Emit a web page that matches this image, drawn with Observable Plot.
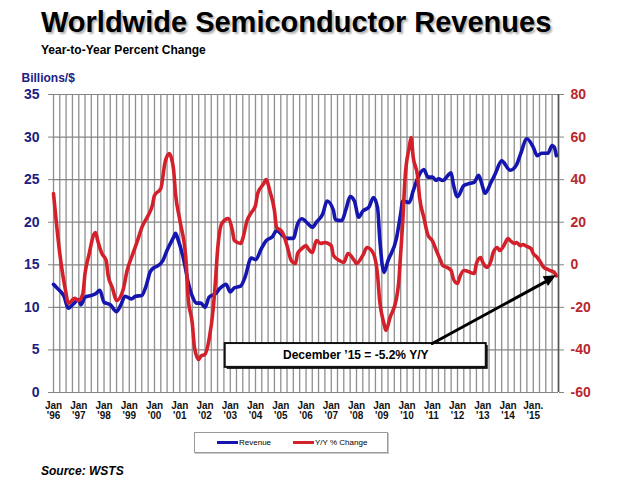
<!DOCTYPE html>
<html>
<head>
<meta charset="utf-8">
<script src="https://cdn.jsdelivr.net/npm/d3@7"></script>
<script src="https://cdn.jsdelivr.net/npm/@observablehq/plot@0.6"></script>
<style>
  body { margin: 0; background: #fff; font-family: "Liberation Sans", Arial, sans-serif; }
  #page { position: relative; width: 617px; height: 495px; overflow: hidden; background: #fff; }
  #title { position: absolute; left: 41px; top: 8px; font-size: 29px; line-height: 29px; font-weight: bold;
           color: #000; white-space: nowrap; text-shadow: 2px 2px 2px rgba(0,0,0,0.3); }
  #subtitle { position: absolute; left: 41px; top: 44px; font-size: 12px; line-height: 12px; font-weight: bold; white-space: nowrap; }
  #chart { position: absolute; left: 0; top: 62px; }
  #legend { position: absolute; left: 194px; top: 432px; width: 192px; height: 19px; border: 1px solid #9a9a9a;
            box-shadow: 1px 1px 0 #c8c8c8; font-size: 8px; }
  #legend .item { display: flex; align-items: center; position: absolute; top: 0; height: 19px; }
  #legend .swatch { width: 21px; height: 3px; margin-right: 1px; }
  #source { position: absolute; left: 41px; top: 465px; font-size: 12px; line-height: 12px; font-weight: bold;
            font-style: italic; white-space: nowrap; }
</style>
</head>
<body>
<div id="page">
  <div id="title">Worldwide Semiconductor Revenues</div>
  <div id="subtitle">Year-to-Year Percent Change</div>
  <div id="chart"></div>
  <div id="legend"></div>
  <div id="source">Source: WSTS</div>
</div>
<script>
// Worldwide semiconductor revenue (billions of US$, 3-month average)
const revenueMonths = [
  "1996-01","1996-03","1996-06","1996-08","1996-10",
  "1997-01","1997-02","1997-04","1997-07","1997-09","1997-11",
  "1998-01","1998-04","1998-07","1998-09","1998-11",
  "1999-02","1999-04","1999-07","1999-09","1999-11",
  "2000-01","2000-02","2000-05","2000-07","2000-10","2000-11","2000-12",
  "2001-03","2001-05","2001-07","2001-09","2001-11",
  "2002-01","2002-03","2002-06","2002-08","2002-11",
  "2003-01","2003-03","2003-06","2003-08","2003-11",
  "2004-01","2004-04","2004-06","2004-09","2004-11",
  "2005-02","2005-04","2005-07","2005-09","2005-11",
  "2006-02","2006-04","2006-06","2006-09","2006-11",
  "2007-02","2007-03","2007-06","2007-08","2007-10","2007-12",
  "2008-02","2008-04","2008-07","2008-09","2008-11","2008-12",
  "2009-02","2009-04","2009-08","2009-10","2009-11",
  "2010-02","2010-04","2010-06","2010-09","2010-11",
  "2011-01","2011-03","2011-04","2011-06","2011-10","2011-11",
  "2012-01","2012-04","2012-06","2012-09","2012-11",
  "2013-01","2013-02","2013-05","2013-07","2013-10",
  "2014-02","2014-05","2014-07","2014-10",
  "2015-01","2015-03","2015-05","2015-08","2015-10","2015-11","2015-12"
];
const revenueValues = [
  12.7, 12.2, 11.3, 9.9, 10.3,
  10.9, 10.3, 11.2, 11.4, 11.6, 12.0,
  10.6, 10.3, 9.5, 10.3, 11.3,
  11.0, 11.3, 11.4, 12.5, 14.2,
  14.7, 14.8, 15.5, 16.7, 18.2, 18.7, 18.1,
  15.5, 13.0, 11.3, 10.5, 10.5,
  10.0, 11.2, 11.6, 12.2, 12.7,
  11.8, 12.3, 12.5, 13.5, 15.8,
  15.6, 17.0, 17.8, 18.3, 19.0,
  18.4, 18.1, 18.1, 19.8, 20.4,
  19.8, 19.4, 20.0, 21.0, 22.5,
  21.4, 20.3, 20.2, 21.5, 23.0, 22.5,
  20.6, 21.3, 21.8, 22.9, 21.7, 18.2,
  14.1, 15.5, 18.1, 21.0, 22.5,
  22.3, 23.7, 25.1, 26.2, 25.3,
  25.3, 24.9, 25.1, 24.9, 25.8, 24.5,
  23.0, 24.3, 24.5, 24.7, 25.5,
  24.1, 23.4, 24.7, 25.7, 27.2,
  26.1, 26.7, 28.0, 29.8,
  28.8, 27.8, 28.1, 28.1, 29.0, 28.8, 27.8
];

// Year-to-year percent change
const changeMonths = [
  "1996-01","1996-04","1996-07","1996-08","1996-11",
  "1997-01","1997-03","1997-04","1997-06","1997-08","1997-09","1997-10","1997-12",
  "1998-02","1998-03","1998-05","1998-07","1998-10","1998-12",
  "1999-03","1999-05","1999-07","1999-10","1999-12",
  "2000-01","2000-04","2000-06","2000-08","2000-10","2000-11",
  "2001-01","2001-04","2001-05","2001-07","2001-08","2001-10","2001-11",
  "2002-01","2002-03","2002-05","2002-06","2002-07","2002-09","2002-12",
  "2003-02","2003-03","2003-06","2003-07","2003-09","2003-11",
  "2004-01","2004-02","2004-05","2004-06","2004-08","2004-10","2004-11",
  "2005-01","2005-02","2005-04","2005-06","2005-08","2005-09","2005-11",
  "2006-01","2006-02","2006-04","2006-06","2006-08","2006-10",
  "2007-01","2007-02","2007-05","2007-07","2007-09","2007-12",
  "2008-01","2008-04","2008-06","2008-09","2008-11","2008-12",
  "2009-02","2009-03","2009-05","2009-08","2009-09","2009-10","2009-11","2009-12",
  "2010-02","2010-03","2010-04","2010-06","2010-07","2010-09","2010-11",
  "2011-01","2011-03","2011-05","2011-06","2011-08","2011-10","2011-11",
  "2012-01","2012-02","2012-04","2012-06","2012-07","2012-09","2012-10","2012-12",
  "2013-01","2013-03","2013-05","2013-06","2013-08","2013-09","2013-11",
  "2014-01","2014-02","2014-04","2014-05","2014-07","2014-08","2014-10","2014-12",
  "2015-01","2015-03","2015-04","2015-06","2015-08","2015-09","2015-11","2015-12"
];
const changeValues = [
  33.5, 5.3, -13.5, -18.2, -15.8,
  -16.8, -13.5, -4.1, 5.3, 13.8, 15.2, 11.4, 5.3,
  2.0, -5.0, -10.7, -16.8, -12.1, -2.7,
  5.8, 11.4, 17.5, 23.2, 27.9,
  32.6, 35.8, 48.0, 52.2, 45.2, 33.0,
  21.0, 2.0, -15.3, -27.6, -38.8, -44.5, -43.0,
  -42.0, -35.0, -20.0, -7.4, 6.7, 19.4, 21.7,
  16.1, 11.4, 10.0, 12.3, 20.8, 24.5,
  27.8, 33.5, 38.2, 40.0, 34.0, 25.5, 17.5,
  16.1, 14.7, 9.0, 2.0, 0.6, 5.3, 7.6,
  9.0, 7.6, 5.8, 11.4, 10.0, 10.5,
  9.0, 4.4, 2.0, 1.1, 5.3, 2.0,
  0.6, 4.4, 8.1, 5.3, -5.0, -16.8,
  -27.6, -30.9, -24.7, -15.8, -8.8, 5.3, 20.8, 39.6,
  55.2, 59.8, 50.4, 41.9, 31.7, 22.3, 13.8,
  11.4, 6.7, 2.0, -0.3, -1.2, -2.7, -6.5,
  -8.8, -5.9, -2.7, -3.1, -3.6, -4.1, 0.6, 3.4,
  1.1, -1.2, 2.0, 5.8, 8.1, 6.7, 9.0,
  12.3, 11.4, 10.0, 10.5, 9.0, 9.5, 8.6, 7.6,
  5.3, 3.4, 2.0, -1.2, -2.2, -2.7, -3.6, -5.2
];

// Axis ticks and labels
const revenueTicks = [0, 5, 10, 15, 20, 25, 30, 35];
const changeTicks = [-60, -40, -20, 0, 20, 40, 60, 80];
const tickYears = [1996, 1997, 1998, 1999, 2000, 2001, 2002, 2003, 2004, 2005,
                   2006, 2007, 2008, 2009, 2010, 2011, 2012, 2013, 2014, 2015];
const tickLabels = ["Jan\n'96", "Jan\n'97", "Jan\n'98", "Jan\n'99", "Jan\n'00", "Jan\n'01", "Jan\n'02",
                    "Jan\n'03", "Jan\n'04", "Jan\n'05", "Jan\n'06", "Jan\n'07", "Jan\n'08", "Jan\n'09",
                    "Jan\n'10", "Jan\n'11", "Jan\n'12", "Jan\n'13", "Jan\n'14", "Jan.\n'15"];

const seriesNames = ["Revenue", "Y/Y % Change"];
const seriesColors = ["#1515b0", "#d4202a"];

// Callout for the latest reading
const callout = {
  text: "December \u201915 = -5.2% Y/Y",
  from: "2002-10-20", to: "2013-02-20", low: -48.2, high: -37,
  arrowStart: "2011-01-01"
};

const parseMonth = d3.utcParse("%Y-%m");
const parseDay = d3.utcParse("%Y-%m-%d");

// The percent-change series shares the chart with the revenue axis:
// its range -60..80 is laid over the revenue range 0..35.
const revDomain = [0, 35];
const chgDomain = [-60, 80];
const toRevenueAxis = (p) =>
  revDomain[0] + (p - chgDomain[0]) * (revDomain[1] - revDomain[0]) / (chgDomain[1] - chgDomain[0]);

const revenue = revenueMonths.map((m, i) => ({date: parseMonth(m), value: revenueValues[i]}));
const change = changeMonths.map((m, i) => ({date: parseMonth(m), value: changeValues[i]}));
const last = change[change.length - 1];

const start = new Date(Date.UTC(1996, 0, 1));
const end = new Date(Date.UTC(2016, 0, 1));
const quarters = d3.utcMonth.every(3).range(start, new Date(Date.UTC(2016, 0, 2)));
const yearTicks = tickYears.map((y) => new Date(Date.UTC(y, 0, 1)));
const labelByYear = new Map(tickYears.map((y, i) => [y, tickLabels[i]]));
const changeTickPositions = changeTicks.map(toRevenueAxis);
const changeLabelByPos = new Map(changeTickPositions.map((p, i) => [p, String(changeTicks[i])]));

const calloutBox = [{
  x1: parseDay(callout.from), x2: parseDay(callout.to),
  y1: toRevenueAxis(callout.low), y2: toRevenueAxis(callout.high)
}];
const arrowFrom = {date: parseDay(callout.arrowStart), y: toRevenueAxis(callout.high)};
const arrowTo = {date: last.date, y: toRevenueAxis(last.value)};

// Solid triangular arrowhead at the tip of the callout arrow
function arrowHead(index, scales) {
  const x1 = scales.x(arrowFrom.date), y1 = scales.y(arrowFrom.y);
  const x2 = scales.x(arrowTo.date), y2 = scales.y(arrowTo.y);
  const a = Math.atan2(y2 - y1, x2 - x1);
  const len = 12, half = 5.5;
  const bx = x2 - len * Math.cos(a), by = y2 - len * Math.sin(a);
  const px = -Math.sin(a) * half, py = Math.cos(a) * half;
  const g = d3.create("svg:g");
  g.append("polygon")
    .attr("points", [[x2, y2], [bx + px, by + py], [bx - px, by - py]].map((p) => p.join(",")).join(" "))
    .attr("fill", "#000");
  return g.node();
}

const chart = Plot.plot({
  width: 617,
  height: 370,
  marginTop: 32,
  marginLeft: 53,
  marginRight: 59,
  marginBottom: 40,
  style: {fontFamily: "'Liberation Sans', Arial, sans-serif", background: "transparent", overflow: "visible"},
  x: {type: "utc", domain: [start, end]},
  y: {domain: revDomain},
  marks: [
    // quarterly vertical grid and horizontal grid
    Plot.ruleX(quarters, {stroke: "#8f8f8f", strokeWidth: 1.3}),
    Plot.ruleY(revenueTicks, {stroke: "#858585", strokeWidth: 1.2}),
    Plot.ruleX([end], {stroke: "#555", strokeWidth: 1.6}),
    Plot.axisY({
      ticks: revenueTicks, tickSize: 5, tickPadding: 9, label: null,
      stroke: "#858585", fill: "#1d2080", fontSize: 14, fontWeight: "bold"
    }),
    Plot.axisY({
      anchor: "right", ticks: changeTickPositions, tickSize: 5, tickPadding: 7, label: null,
      tickFormat: (v) => changeLabelByPos.get(v),
      stroke: "#858585", fill: "#b8272d", fontSize: 14, fontWeight: "bold"
    }),
    Plot.axisX({
      ticks: yearTicks, tickSize: 0, tickPadding: 9, label: null,
      tickFormat: (d) => labelByYear.get(d.getUTCFullYear()),
      fill: "#111", fontSize: 10, fontWeight: "bold"
    }),
    Plot.text(["Billions/$"], {
      frameAnchor: "top-left", dx: -32, dy: -13, textAnchor: "start", lineAnchor: "bottom",
      fill: "#1d2080", fontSize: 12, fontWeight: "bold"
    }),
    // series
    Plot.line(revenue, {x: "date", y: "value", stroke: seriesColors[0], strokeWidth: 3.6, curve: "monotone-x"}),
    Plot.line(change, {x: "date", y: (d) => toRevenueAxis(d.value), stroke: seriesColors[1], strokeWidth: 3.6, curve: "monotone-x"}),
    // callout box, label and arrow to the latest point
    Plot.rect(calloutBox, {x1: "x1", x2: "x2", y1: "y1", y2: "y2", fill: "#111", dx: 2, dy: 2}),
    Plot.rect(calloutBox, {x1: "x1", x2: "x2", y1: "y1", y2: "y2", fill: "white", stroke: "#111", strokeWidth: 2}),
    Plot.text(calloutBox, {
      x: (d) => new Date((+d.x1 + +d.x2) / 2), y: (d) => (d.y1 + d.y2) / 2,
      text: () => callout.text, fontSize: 12, fontWeight: "bold", fill: "#000"
    }),
    Plot.arrow([arrowFrom], {
      x1: "date", y1: "y", x2: () => arrowTo.date, y2: () => arrowTo.y,
      stroke: "#000", strokeWidth: 3, headLength: 0, insetEnd: 9
    }),
    arrowHead
  ]
});
document.getElementById("chart").append(chart);

// legend
const legend = document.getElementById("legend");
const legendOffsets = [22, 98];
seriesNames.forEach((name, i) => {
  const item = document.createElement("div");
  item.className = "item";
  item.style.left = legendOffsets[i] + "px";
  const sw = document.createElement("span");
  sw.className = "swatch";
  sw.style.background = seriesColors[i];
  const label = document.createElement("span");
  label.textContent = name;
  item.append(sw, label);
  legend.append(item);
});
</script>
</body>
</html>
